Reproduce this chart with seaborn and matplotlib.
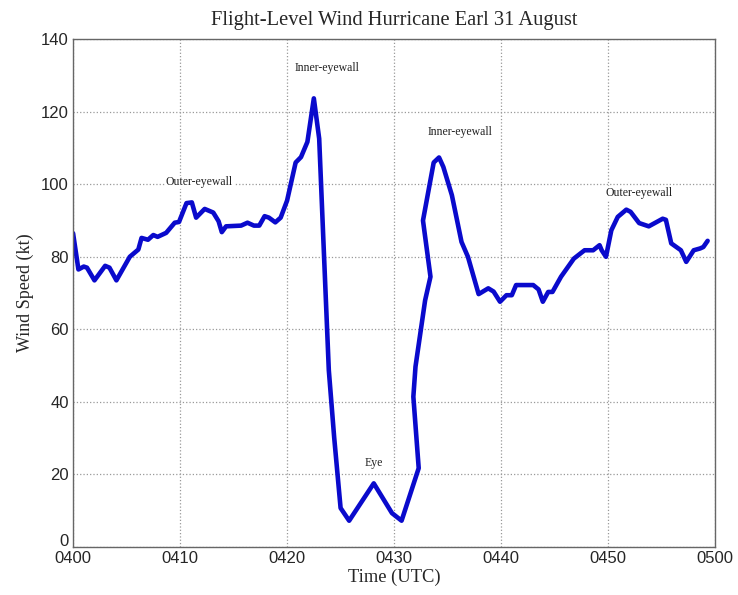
import matplotlib
matplotlib.use("Agg")
import matplotlib.pyplot as plt
import matplotlib.transforms as mtransforms
import pandas as pd
import seaborn as sns

# minutes after 0400 UTC and flight-level wind (kt)
minutes = [0.0, 0.5, 1.0, 1.3, 2.0, 3.0, 3.4, 4.05, 5.3, 6.1, 6.4, 7.0, 7.5, 7.9,
           8.7, 9.5, 9.9, 10.6, 11.1, 11.5, 12.3, 13.1, 13.6, 13.9, 14.3, 15.7,
           16.3, 16.9, 17.4, 17.9, 18.3, 18.9, 19.4, 20.0, 20.8, 21.3, 21.9, 22.5,
           23.0, 23.4, 23.9, 24.4, 25.0, 25.8, 28.1, 29.8, 30.7, 32.3, 31.8, 32.0,
           32.9, 33.4, 32.7, 33.7, 34.2, 34.6, 35.4, 36.3, 36.9, 37.9, 38.8, 39.3,
           39.9, 40.5, 41.0, 41.4, 43.0, 43.5, 43.9, 44.4, 44.8, 45.6, 46.8, 47.8,
           48.6, 49.2, 49.4, 49.8, 50.3, 50.9, 51.7, 52.1, 52.9, 53.8, 55.1, 55.4,
           55.9, 56.8, 57.3, 58.0, 58.6, 58.9, 59.3]
wind_kt = [86.5, 76.5, 77.3, 77.0, 73.5, 77.5, 77.0, 73.5, 80.0, 82.0, 85.2, 84.7,
           86.0, 85.5, 86.6, 89.4, 89.6, 94.8, 95.0, 90.8, 93.2, 92.2, 89.8, 86.8,
           88.4, 88.6, 89.4, 88.6, 88.6, 91.2, 90.8, 89.5, 90.8, 95.5, 106.0, 107.5,
           111.7, 123.7, 112.6, 84.0, 48.7, 30.2, 10.7, 7.2, 17.5, 9.3, 7.2, 21.7,
           41.4, 49.7, 68.0, 74.5, 90.0, 106.0, 107.4, 104.8, 97.0, 84.1, 80.0, 69.7,
           71.3, 70.4, 67.6, 69.4, 69.4, 72.2, 72.2, 71.0, 67.6, 70.3, 70.3, 74.5,
           79.5, 81.8, 81.8, 83.2, 81.8, 80.0, 87.3, 91.0, 93.0, 92.4, 89.3, 88.4,
           90.5, 90.2, 83.7, 81.8, 78.6, 81.8, 82.3, 82.7, 84.4]

time_ticks = [0, 10, 20, 30, 40, 50, 60]
time_labels = ["0400", "0410", "0420", "0430", "0440", "0450", "0500"]

notes = ["Outer-eyewall", "Inner-eyewall", "Eye", "Inner-eyewall", "Outer-eyewall"]
note_t = [11.8, 23.7, 28.1, 36.2, 52.9]
note_v = [100.5, 132.0, 23.0, 114.5, 97.6]

df = pd.DataFrame({"t": minutes, "v": wind_kt})

sns.set_style("white")
plt.rcParams["font.family"] = ["Liberation Serif", "DejaVu Serif"]

fig = plt.figure(figsize=(7.38, 5.95), dpi=100)
ax = fig.add_axes([0.099, 0.081, 0.870, 0.853])

sns.lineplot(data=df, x="t", y="v", sort=False, estimator=None,
             color="#0a0acc", linewidth=3.3, ax=ax)

ax.set_xlim(0, 60)
ax.set_ylim(0, 140)
ax.set_xticks(time_ticks)
ax.set_xticklabels(time_labels)
ax.set_yticks(range(0, 141, 20))
for lab in ax.get_xticklabels() + ax.get_yticklabels():
    lab.set_family(["Liberation Sans", "DejaVu Sans"])
    lab.set_fontsize(12)
ax.tick_params(direction="in", length=5, color="#555555", pad=3)
# the "0" sits a little above the axis corner, clear of "0400"
ylabs = ax.get_yticklabels()
ylabs[0].set_transform(ylabs[0].get_transform() +
                       mtransforms.ScaledTranslation(0, 5 / 72, fig.dpi_scale_trans))
ax.grid(True, linestyle=":", color="#999999", linewidth=0.9)
for s in ax.spines.values():
    s.set_color("#666666")
    s.set_linewidth(1.0)

ax.set_xlabel("Time (UTC)", fontsize=13.3, labelpad=2)
ax.set_ylabel("Wind Speed (kt)", fontsize=13, labelpad=5)
ax.set_title("Flight-Level Wind Hurricane Earl 31 August", fontsize=14.8, pad=10)

for txt, t, v in zip(notes, note_t, note_v):
    ax.text(t, v, txt, ha="center", va="center", fontsize=8.5, color="#222222",
            bbox=dict(facecolor="white", edgecolor="none", pad=0.5))

fig.savefig("out.png", dpi=100)
